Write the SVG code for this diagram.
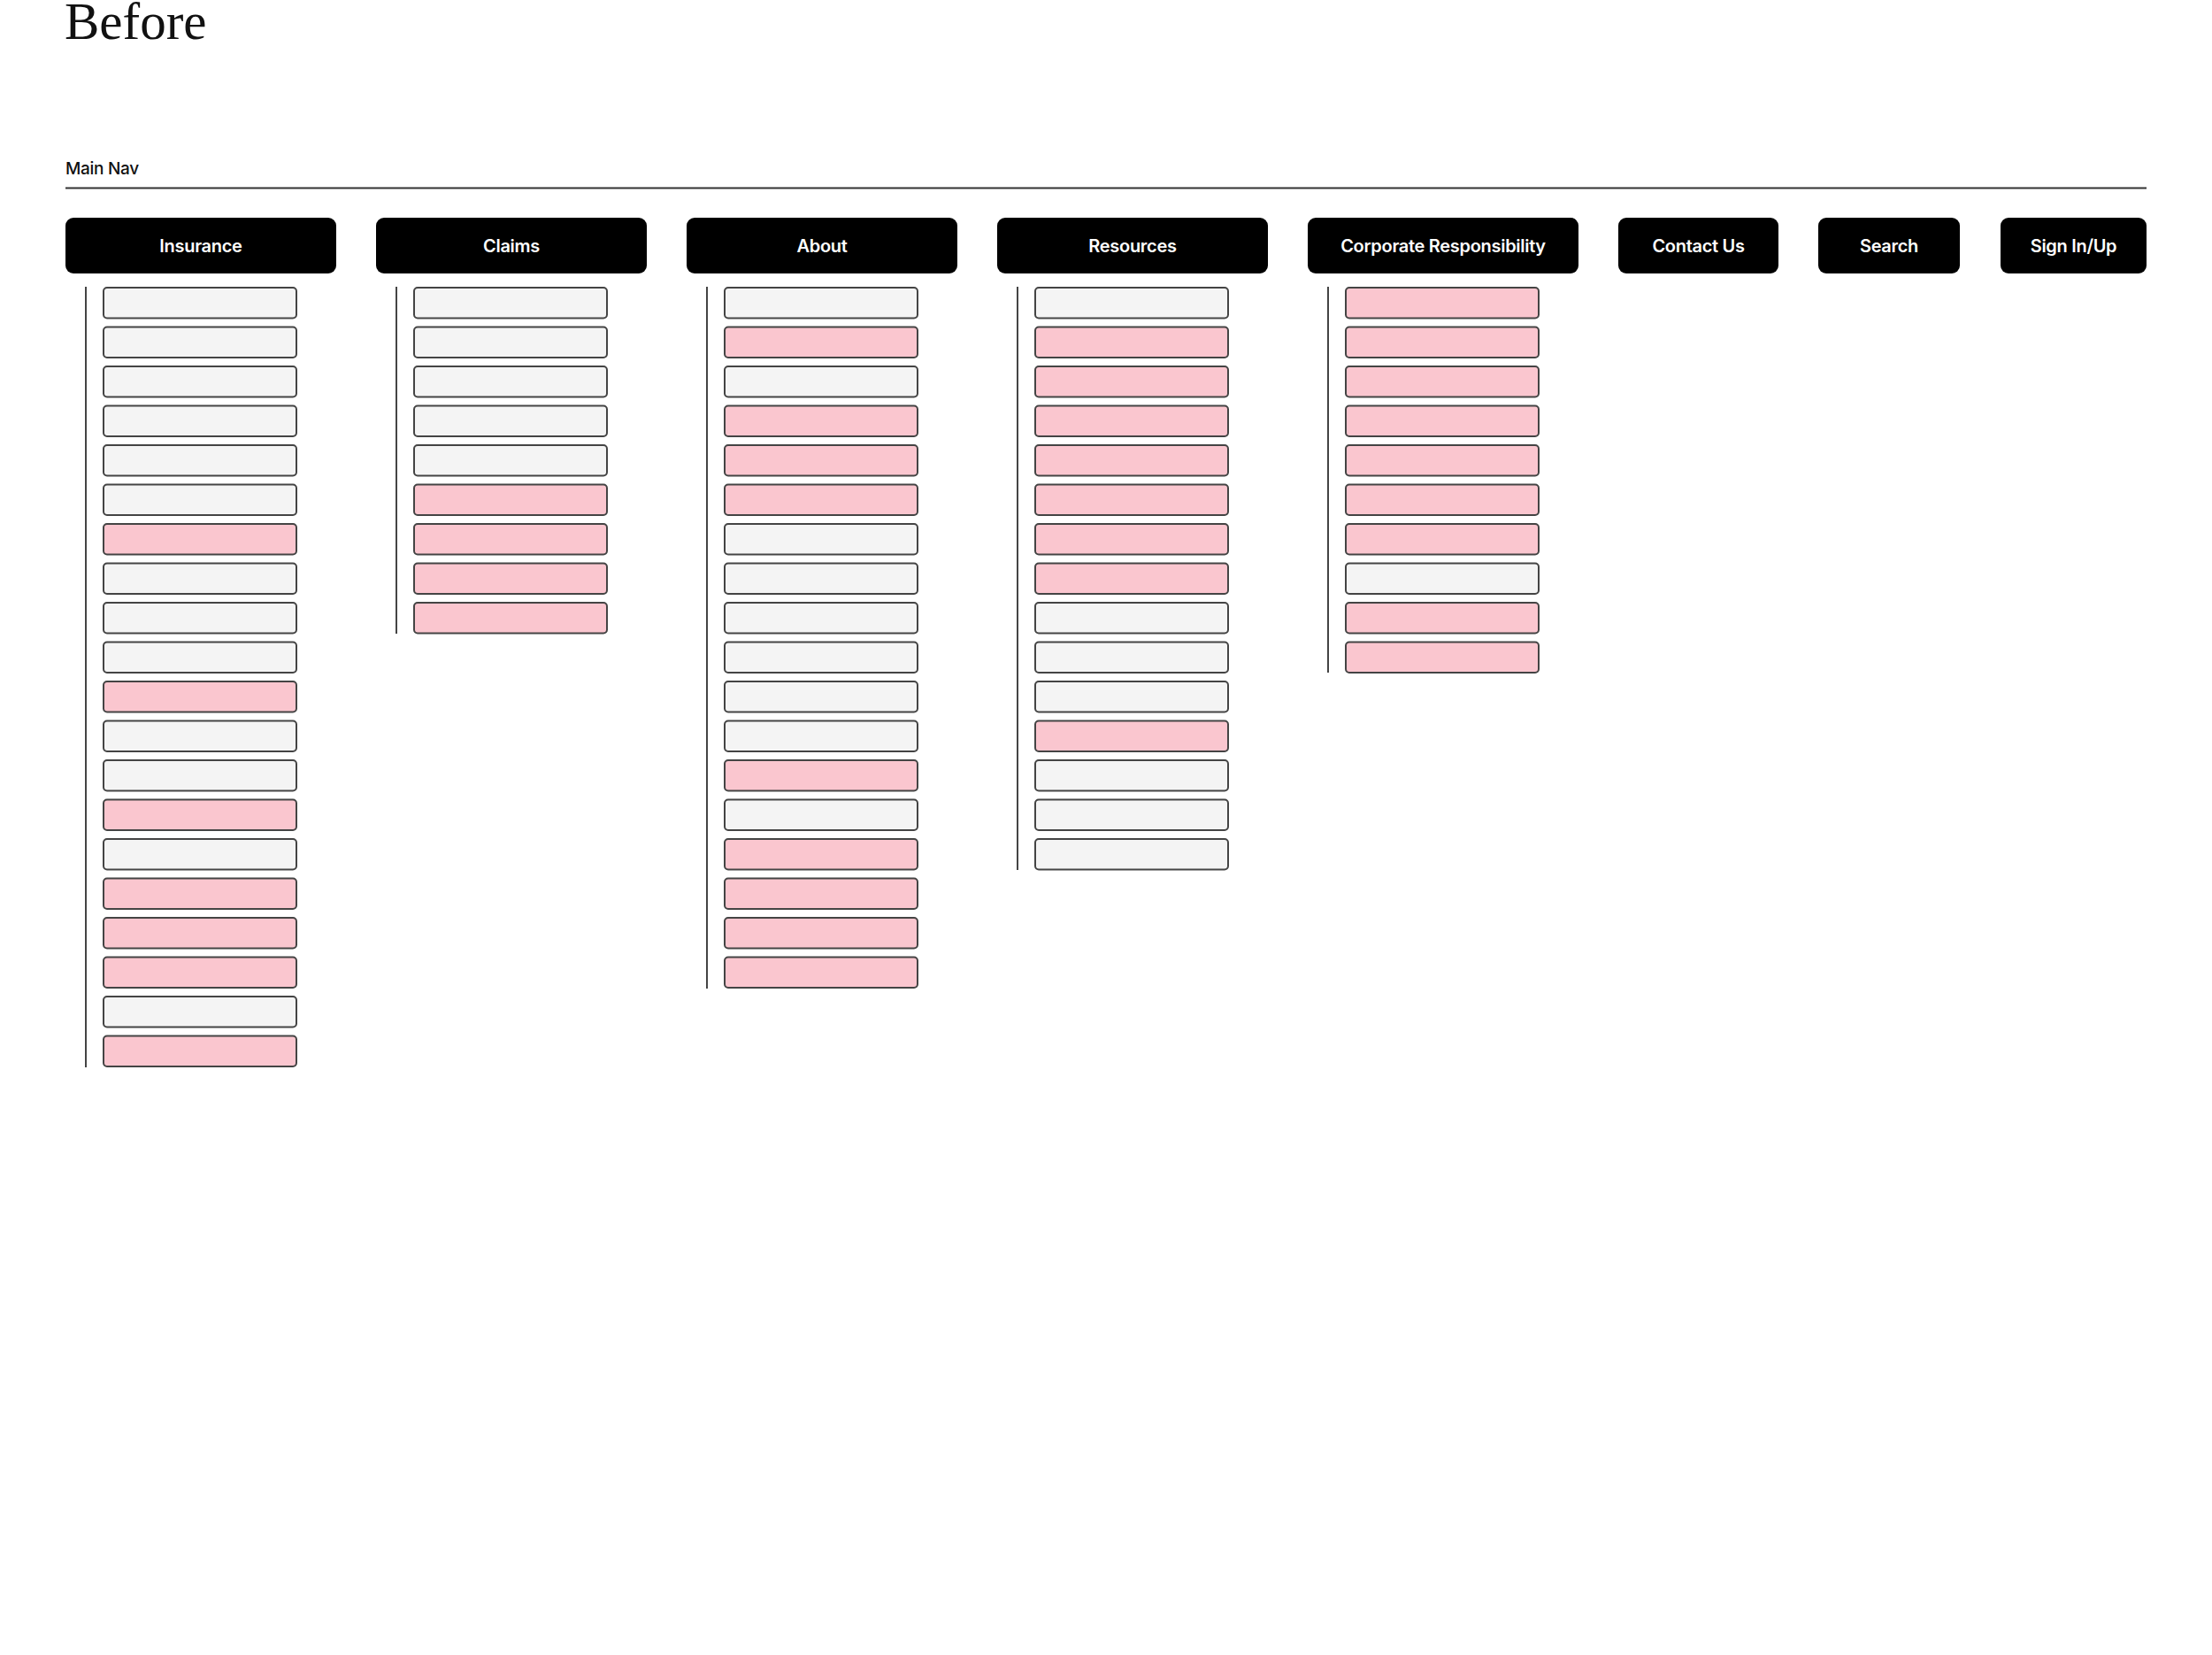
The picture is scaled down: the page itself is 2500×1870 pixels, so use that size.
<svg xmlns="http://www.w3.org/2000/svg" width="2500" height="1870" viewBox="0 0 2500 1870">
<style>
.hdr{fill:#000}
.ht{fill:#fff;font-family:Inter,"Liberation Sans",sans-serif;font-weight:600;font-size:20px;text-anchor:middle;letter-spacing:-0.3px}
.g{fill:#f4f4f4;stroke:#444;stroke-width:2}
.p{fill:#fac6cf;stroke:#444;stroke-width:2}
.vl{stroke:#444;stroke-width:2}
</style>
<rect width="2500" height="1870" fill="#fff"/>
<text x="73" y="44" font-family="'Liberation Serif',serif" font-size="59" fill="#111">Before</text>
<text x="74" y="197" font-family="Inter,'Liberation Sans',sans-serif" font-weight="500" font-size="19" fill="#111" letter-spacing="-0.3">Main Nav</text>
<line x1="74" y1="212.5" x2="2426" y2="212.5" stroke="#333" stroke-width="2"/>

<g id="nav-insurance">
<rect class="hdr" x="74" y="246" width="306" height="63" rx="9"/>
<text class="ht" x="227" y="285">Insurance</text>
</g>
<g id="nav-claims">
<rect class="hdr" x="425" y="246" width="306" height="63" rx="9"/>
<text class="ht" x="578" y="285">Claims</text>
</g>
<g id="nav-about">
<rect class="hdr" x="776" y="246" width="306" height="63" rx="9"/>
<text class="ht" x="929" y="285">About</text>
</g>
<g id="nav-resources">
<rect class="hdr" x="1127" y="246" width="306" height="63" rx="9"/>
<text class="ht" x="1280" y="285">Resources</text>
</g>
<g id="nav-corporate">
<rect class="hdr" x="1478" y="246" width="306" height="63" rx="9"/>
<text class="ht" x="1631" y="285">Corporate Responsibility</text>
</g>
<g id="nav-contact">
<rect class="hdr" x="1829" y="246" width="181" height="63" rx="9"/>
<text class="ht" x="1919.5" y="285">Contact Us</text>
</g>
<g id="nav-search">
<rect class="hdr" x="2055" y="246" width="160" height="63" rx="9"/>
<text class="ht" x="2135" y="285">Search</text>
</g>
<g id="nav-signin">
<rect class="hdr" x="2261" y="246" width="165" height="63" rx="9"/>
<text class="ht" x="2343.5" y="285">Sign In/Up</text>
</g>

<g id="connectors">
<line class="vl" x1="97" y1="324" x2="97" y2="1206"/>
<line class="vl" x1="448" y1="324" x2="448" y2="716"/>
<line class="vl" x1="799" y1="324" x2="799" y2="1117"/>
<line class="vl" x1="1150" y1="324" x2="1150" y2="983"/>
<line class="vl" x1="1501" y1="324" x2="1501" y2="760"/>
</g>

<g id="insurance-items">
<rect class="g" x="117" y="325" width="218" height="34.5" rx="4"/>
<rect class="g" x="117" y="369.5" width="218" height="34.5" rx="4"/>
<rect class="g" x="117" y="414" width="218" height="34.5" rx="4"/>
<rect class="g" x="117" y="458.5" width="218" height="34.5" rx="4"/>
<rect class="g" x="117" y="503" width="218" height="34.5" rx="4"/>
<rect class="g" x="117" y="547.5" width="218" height="34.5" rx="4"/>
<rect class="p" x="117" y="592" width="218" height="34.5" rx="4"/>
<rect class="g" x="117" y="636.5" width="218" height="34.5" rx="4"/>
<rect class="g" x="117" y="681" width="218" height="34.5" rx="4"/>
<rect class="g" x="117" y="725.5" width="218" height="34.5" rx="4"/>
<rect class="p" x="117" y="770" width="218" height="34.5" rx="4"/>
<rect class="g" x="117" y="814.5" width="218" height="34.5" rx="4"/>
<rect class="g" x="117" y="859" width="218" height="34.5" rx="4"/>
<rect class="p" x="117" y="903.5" width="218" height="34.5" rx="4"/>
<rect class="g" x="117" y="948" width="218" height="34.5" rx="4"/>
<rect class="p" x="117" y="992.5" width="218" height="34.5" rx="4"/>
<rect class="p" x="117" y="1037" width="218" height="34.5" rx="4"/>
<rect class="p" x="117" y="1081.5" width="218" height="34.5" rx="4"/>
<rect class="g" x="117" y="1126" width="218" height="34.5" rx="4"/>
<rect class="p" x="117" y="1170.5" width="218" height="34.5" rx="4"/>
</g>

<g id="claims-items">
<rect class="g" x="468" y="325" width="218" height="34.5" rx="4"/>
<rect class="g" x="468" y="369.5" width="218" height="34.5" rx="4"/>
<rect class="g" x="468" y="414" width="218" height="34.5" rx="4"/>
<rect class="g" x="468" y="458.5" width="218" height="34.5" rx="4"/>
<rect class="g" x="468" y="503" width="218" height="34.5" rx="4"/>
<rect class="p" x="468" y="547.5" width="218" height="34.5" rx="4"/>
<rect class="p" x="468" y="592" width="218" height="34.5" rx="4"/>
<rect class="p" x="468" y="636.5" width="218" height="34.5" rx="4"/>
<rect class="p" x="468" y="681" width="218" height="34.5" rx="4"/>
</g>

<g id="about-items">
<rect class="g" x="819" y="325" width="218" height="34.5" rx="4"/>
<rect class="p" x="819" y="369.5" width="218" height="34.5" rx="4"/>
<rect class="g" x="819" y="414" width="218" height="34.5" rx="4"/>
<rect class="p" x="819" y="458.5" width="218" height="34.5" rx="4"/>
<rect class="p" x="819" y="503" width="218" height="34.5" rx="4"/>
<rect class="p" x="819" y="547.5" width="218" height="34.5" rx="4"/>
<rect class="g" x="819" y="592" width="218" height="34.5" rx="4"/>
<rect class="g" x="819" y="636.5" width="218" height="34.5" rx="4"/>
<rect class="g" x="819" y="681" width="218" height="34.5" rx="4"/>
<rect class="g" x="819" y="725.5" width="218" height="34.5" rx="4"/>
<rect class="g" x="819" y="770" width="218" height="34.5" rx="4"/>
<rect class="g" x="819" y="814.5" width="218" height="34.5" rx="4"/>
<rect class="p" x="819" y="859" width="218" height="34.5" rx="4"/>
<rect class="g" x="819" y="903.5" width="218" height="34.5" rx="4"/>
<rect class="p" x="819" y="948" width="218" height="34.5" rx="4"/>
<rect class="p" x="819" y="992.5" width="218" height="34.5" rx="4"/>
<rect class="p" x="819" y="1037" width="218" height="34.5" rx="4"/>
<rect class="p" x="819" y="1081.5" width="218" height="34.5" rx="4"/>
</g>

<g id="resources-items">
<rect class="g" x="1170" y="325" width="218" height="34.5" rx="4"/>
<rect class="p" x="1170" y="369.5" width="218" height="34.5" rx="4"/>
<rect class="p" x="1170" y="414" width="218" height="34.5" rx="4"/>
<rect class="p" x="1170" y="458.5" width="218" height="34.5" rx="4"/>
<rect class="p" x="1170" y="503" width="218" height="34.5" rx="4"/>
<rect class="p" x="1170" y="547.5" width="218" height="34.5" rx="4"/>
<rect class="p" x="1170" y="592" width="218" height="34.5" rx="4"/>
<rect class="p" x="1170" y="636.5" width="218" height="34.5" rx="4"/>
<rect class="g" x="1170" y="681" width="218" height="34.5" rx="4"/>
<rect class="g" x="1170" y="725.5" width="218" height="34.5" rx="4"/>
<rect class="g" x="1170" y="770" width="218" height="34.5" rx="4"/>
<rect class="p" x="1170" y="814.5" width="218" height="34.5" rx="4"/>
<rect class="g" x="1170" y="859" width="218" height="34.5" rx="4"/>
<rect class="g" x="1170" y="903.5" width="218" height="34.5" rx="4"/>
<rect class="g" x="1170" y="948" width="218" height="34.5" rx="4"/>
</g>

<g id="corporate-items">
<rect class="p" x="1521" y="325" width="218" height="34.5" rx="4"/>
<rect class="p" x="1521" y="369.5" width="218" height="34.5" rx="4"/>
<rect class="p" x="1521" y="414" width="218" height="34.5" rx="4"/>
<rect class="p" x="1521" y="458.5" width="218" height="34.5" rx="4"/>
<rect class="p" x="1521" y="503" width="218" height="34.5" rx="4"/>
<rect class="p" x="1521" y="547.5" width="218" height="34.5" rx="4"/>
<rect class="p" x="1521" y="592" width="218" height="34.5" rx="4"/>
<rect class="g" x="1521" y="636.5" width="218" height="34.5" rx="4"/>
<rect class="p" x="1521" y="681" width="218" height="34.5" rx="4"/>
<rect class="p" x="1521" y="725.5" width="218" height="34.5" rx="4"/>
</g>
</svg>
